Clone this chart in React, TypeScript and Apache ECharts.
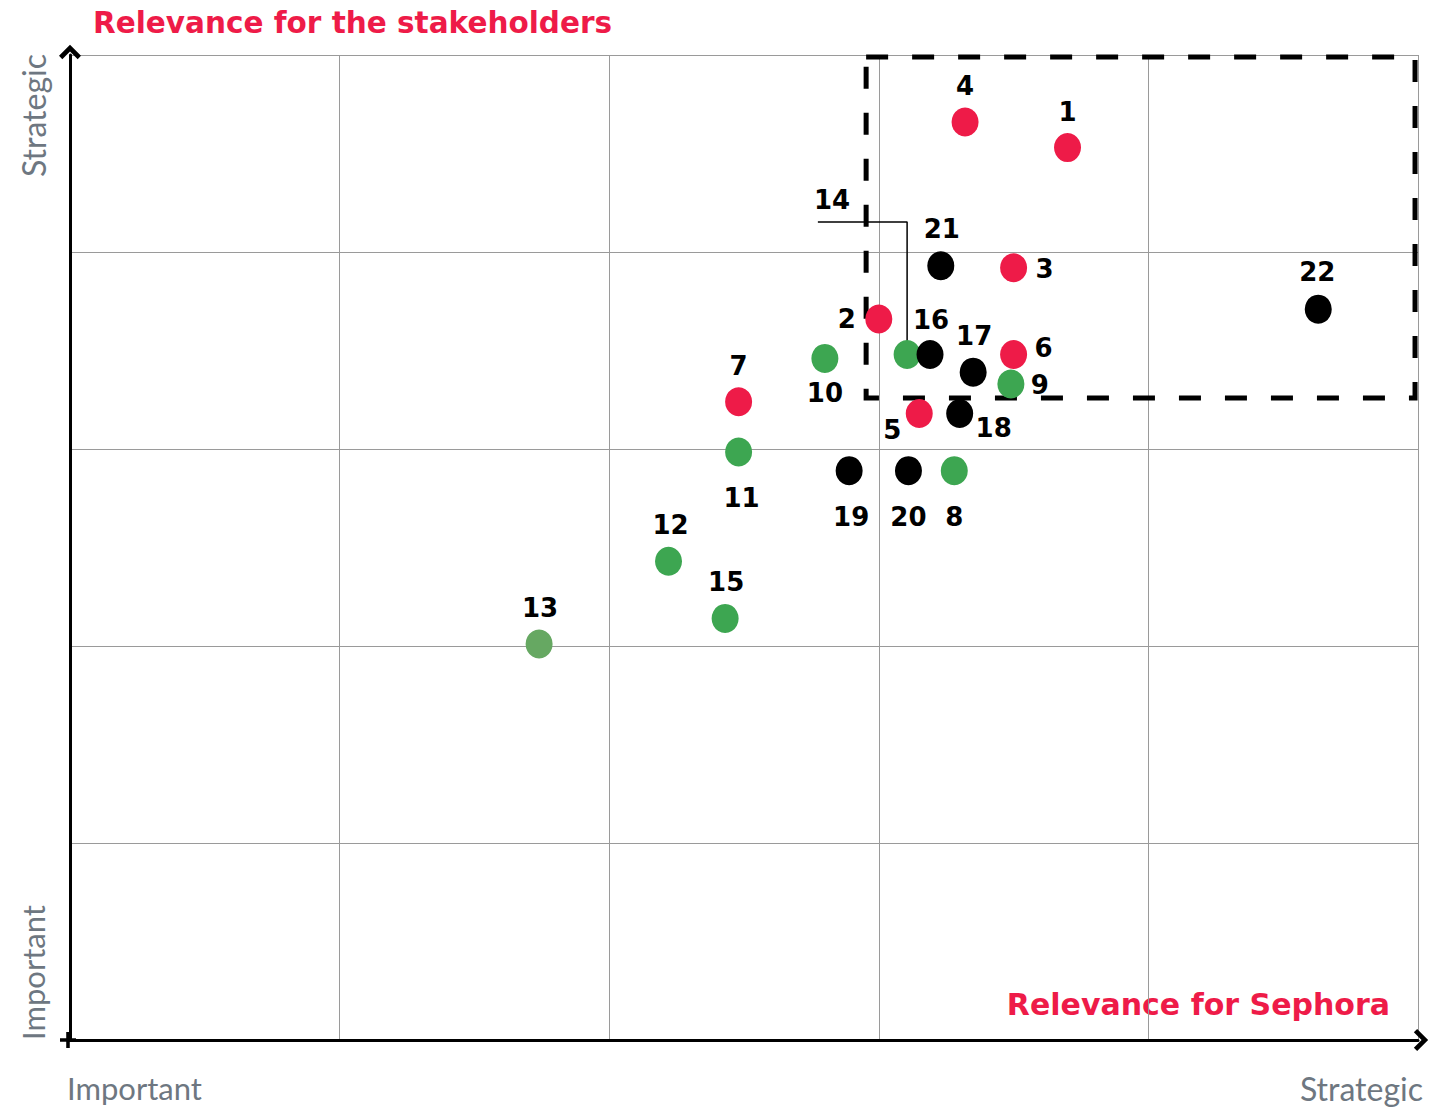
import React, { useEffect, useRef } from "react";
import * as echarts from "echarts";

// ---- Data ----
const ids = [1, 2, 3, 4, 5, 6, 7, 8, 9, 10, 11, 12, 13, 14, 15, 16, 17, 18, 19, 20, 21, 22];
const xValues = [3.70, 3.00, 3.50, 3.32, 3.15, 3.50, 2.48, 3.28, 3.49, 2.80, 2.48, 2.22, 1.74, 3.105, 2.43, 3.19, 3.35, 3.30, 2.89, 3.11, 3.23, 4.63];
const yValues = [4.53, 3.66, 3.92, 4.66, 3.18, 3.48, 3.24, 2.89, 3.33, 3.46, 2.985, 2.43, 2.01, 3.48, 2.14, 3.48, 3.39, 3.18, 2.89, 2.89, 3.93, 3.71];
const groups = ["red", "red", "red", "red", "red", "red", "red", "green", "green", "green", "green", "green", "lightgreen", "green", "green", "black", "black", "black", "black", "black", "black", "black"];
const focusX = [2.953, 4.989];
const focusY = [3.259, 4.99];
const leaderX = [3.105, 3.105, 2.774];
const leaderY = [3.54, 4.152, 4.152];
const xAxisNames = ["Important", "Strategic"];
const yAxisNames = ["Important", "Strategic"];

// ---- Styles ----
const colors: Record<string, string> = {
  red: "#EE1B48",
  green: "#3DA651",
  lightgreen: "#66A862",
  black: "#000000",
};
const labelOffsets: Record<number, [number, number]> = {
  1: [0, -36], 2: [-32, 0], 3: [31, 1], 4: [0, -36], 5: [-27, 16], 6: [30, -6],
  7: [0, -36], 8: [0, 46], 9: [29, 1], 10: [0, 35], 11: [3, 46], 12: [2, -36],
  13: [1, -36], 14: [-75, -154], 15: [1, -36], 16: [1, -34], 17: [1, -36],
  18: [34, 14], 19: [2, 46], 20: [0, 46], 21: [1, -37], 22: [-1, -37],
};
const RED = "#EE1B48";
const GRAY = "#6E7781";
const chevron = "path://M0,10 L10,0 L20,10 L17,13 L10,6 L3,13 Z";
const plus = "path://M7,0 L11,0 L11,7 L18,7 L18,11 L11,11 L11,18 L7,18 L7,11 L0,11 L0,7 L7,7 Z";

export default function App() {
  const ref = useRef<HTMLDivElement>(null);
  useEffect(() => {
    if (!ref.current) return;
    const chart = echarts.init(ref.current, null, { renderer: "svg" });
    const points = ids.map((id, i) => ({
      value: [xValues[i], yValues[i]],
      name: String(id),
      itemStyle: { color: colors[groups[i]], opacity: 1 },
      label: { offset: labelOffsets[id] },
    }));
    chart.setOption({
      animation: false,
      backgroundColor: "#ffffff",
      grid: { left: 70, right: 29, top: 55, bottom: 67 },
      xAxis: {
        type: "value",
        min: 0,
        max: 5,
        interval: 1,
        axisLabel: { show: false },
        axisTick: { show: false },
        axisLine: {
          show: true,
          onZero: false,
          lineStyle: { color: "#000", width: 3 },
          symbol: [plus, chevron],
          symbolSize: [22, 16],
          symbolOffset: [-2, 3],
        },
        splitLine: { show: true, lineStyle: { color: "#9a9a9a", width: 1 } },
      },
      yAxis: {
        type: "value",
        min: 0,
        max: 5,
        interval: 1,
        axisLabel: { show: false },
        axisTick: { show: false },
        axisLine: {
          show: true,
          onZero: false,
          lineStyle: { color: "#000", width: 3 },
          symbol: ["none", chevron],
          symbolSize: [22, 16],
          symbolOffset: [0, 3],
        },
        splitLine: { show: true, lineStyle: { color: "#9a9a9a", width: 1 } },
      },
      series: [
        {
          type: "line",
          data: leaderX.map((x, i) => [x, leaderY[i]]),
          symbol: "none",
          lineStyle: { color: "#000", width: 1.5 },
          z: 1,
          silent: true,
        },
        {
          type: "scatter",
          data: points,
          symbol: "circle",
          symbolSize: [27, 29],
          z: 3,
          itemStyle: { opacity: 1 },
          label: {
            show: true,
            position: "inside",
            formatter: "{b}",
            color: "#000",
            opacity: 1,
            fontFamily: "DejaVu Sans",
            fontWeight: "bold",
            fontSize: 26,
          },
          markArea: {
            silent: true,
            itemStyle: {
              color: "rgba(0,0,0,0)",
              borderColor: "#000",
              borderWidth: 5,
              borderType: [22, 24],
            },
            data: [[{ coord: [focusX[0], focusY[1]] }, { coord: [focusX[1], focusY[0]] }]],
          },
        },
      ],
      graphic: [
        {
          type: "text",
          x: 93,
          y: 23,
          style: {
            text: "Relevance for the stakeholders",
            fill: RED,
            font: "bold 29.5px 'DejaVu Sans'",
            align: "left",
            verticalAlign: "middle",
          },
        },
        {
          type: "text",
          x: 1390,
          y: 1004,
          style: {
            text: "Relevance for Sephora",
            fill: RED,
            font: "bold 30px 'DejaVu Sans'",
            align: "right",
            verticalAlign: "middle",
          },
        },
        {
          type: "text",
          x: 67,
          y: 1088,
          style: { text: xAxisNames[0], fill: GRAY, font: "31px Lato", align: "left", verticalAlign: "middle" },
        },
        {
          type: "text",
          x: 1423,
          y: 1088,
          style: { text: xAxisNames[1], fill: GRAY, font: "32px Lato", align: "right", verticalAlign: "middle" },
        },
        {
          type: "text",
          x: 33,
          y: 1040,
          rotation: Math.PI / 2,
          style: { text: yAxisNames[0], fill: GRAY, font: "31px Lato", align: "left", verticalAlign: "middle" },
        },
        {
          type: "text",
          x: 33,
          y: 54,
          rotation: Math.PI / 2,
          style: { text: yAxisNames[1], fill: GRAY, font: "32px Lato", align: "right", verticalAlign: "middle" },
        },
      ],
    });
    return () => chart.dispose();
  }, []);
  return (
    <div
      ref={ref}
      style={{ position: "absolute", left: 0, top: 0, width: 1447, height: 1107 }}
    />
  );
}
